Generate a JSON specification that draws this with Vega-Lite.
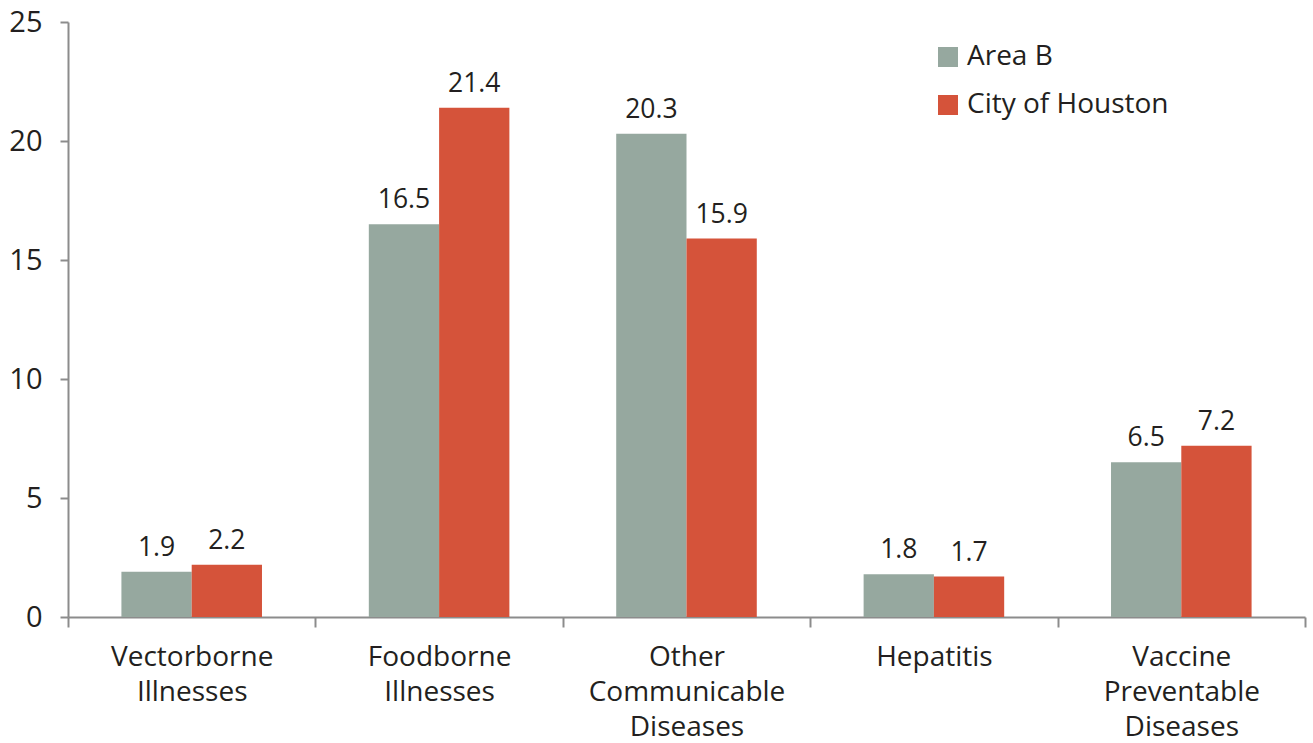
{
  "$schema": "https://vega.github.io/schema/vega-lite/v6.json",
  "autosize": "none",
  "width": 1237,
  "height": 595,
  "padding": {"left": 68, "top": 22, "right": 8, "bottom": 126},
  "background": "white",
  "config": {
    "view": {"stroke": null},
    "font": "Open Sans",
    "axis": {"domainColor": "#8c8c8c", "tickColor": "#8c8c8c", "domainWidth": 2, "tickWidth": 2, "grid": false, "labelColor": "#231f20", "labelFont": "Open Sans", "labelFontSize": 28, "labelLimit": 0, "title": null}
  },
  "data": {
    "values": [
      {"category": "Vectorborne|Illnesses", "series": "Area B", "value": 1.9},
      {"category": "Vectorborne|Illnesses", "series": "City of Houston", "value": 2.2},
      {"category": "Foodborne|Illnesses", "series": "Area B", "value": 16.5},
      {"category": "Foodborne|Illnesses", "series": "City of Houston", "value": 21.4},
      {"category": "Other|Communicable|Diseases", "series": "Area B", "value": 20.3},
      {"category": "Other|Communicable|Diseases", "series": "City of Houston", "value": 15.9},
      {"category": "Hepatitis", "series": "Area B", "value": 1.8},
      {"category": "Hepatitis", "series": "City of Houston", "value": 1.7},
      {"category": "Vaccine|Preventable|Diseases", "series": "Area B", "value": 6.5},
      {"category": "Vaccine|Preventable|Diseases", "series": "City of Houston", "value": 7.2}
    ]
  },
  "encoding": {
    "x": {
      "field": "category", "type": "nominal", "sort": null,
      "scale": {"paddingInner": 0, "paddingOuter": 0},
      "axis": {"labelAngle": 0, "tickBand": "extent", "tickSize": 10, "labelPadding": 16, "labelLineHeight": 35, "labelExpr": "split(datum.label, '|')", "labelBaseline": "top"}
    },
    "xOffset": {"field": "series", "type": "nominal", "scale": {"paddingInner": 0, "paddingOuter": 0.76}},
    "y": {
      "field": "value", "type": "quantitative",
      "scale": {"domain": [0, 25], "nice": false},
      "axis": {"values": [0, 5, 10, 15, 20, 25], "tickSize": 8, "labelPadding": 18, "labelFontSize": 29}
    }
  },
  "layer": [
    {
      "mark": {"type": "bar"},
      "encoding": {
        "color": {
          "field": "series", "type": "nominal",
          "scale": {"domain": ["Area B", "City of Houston"], "range": ["#96a89f", "#d5533a"]},
          "legend": {"orient": "none", "legendX": 866, "legendY": 21, "title": null, "symbolType": "square", "symbolSize": 400, "symbolStrokeWidth": 0, "labelFontSize": 28, "labelFont": "Open Sans", "labelColor": "#231f20", "labelLimit": 0, "rowPadding": 20, "labelOffset": 5}
        }
      }
    },
    {
      "mark": {"type": "text", "baseline": "alphabetic", "dy": -16, "fontSize": 26.5, "font": "Open Sans", "color": "#231f20"},
      "encoding": {"text": {"field": "value", "type": "quantitative", "format": ".1f"}}
    }
  ]
}
